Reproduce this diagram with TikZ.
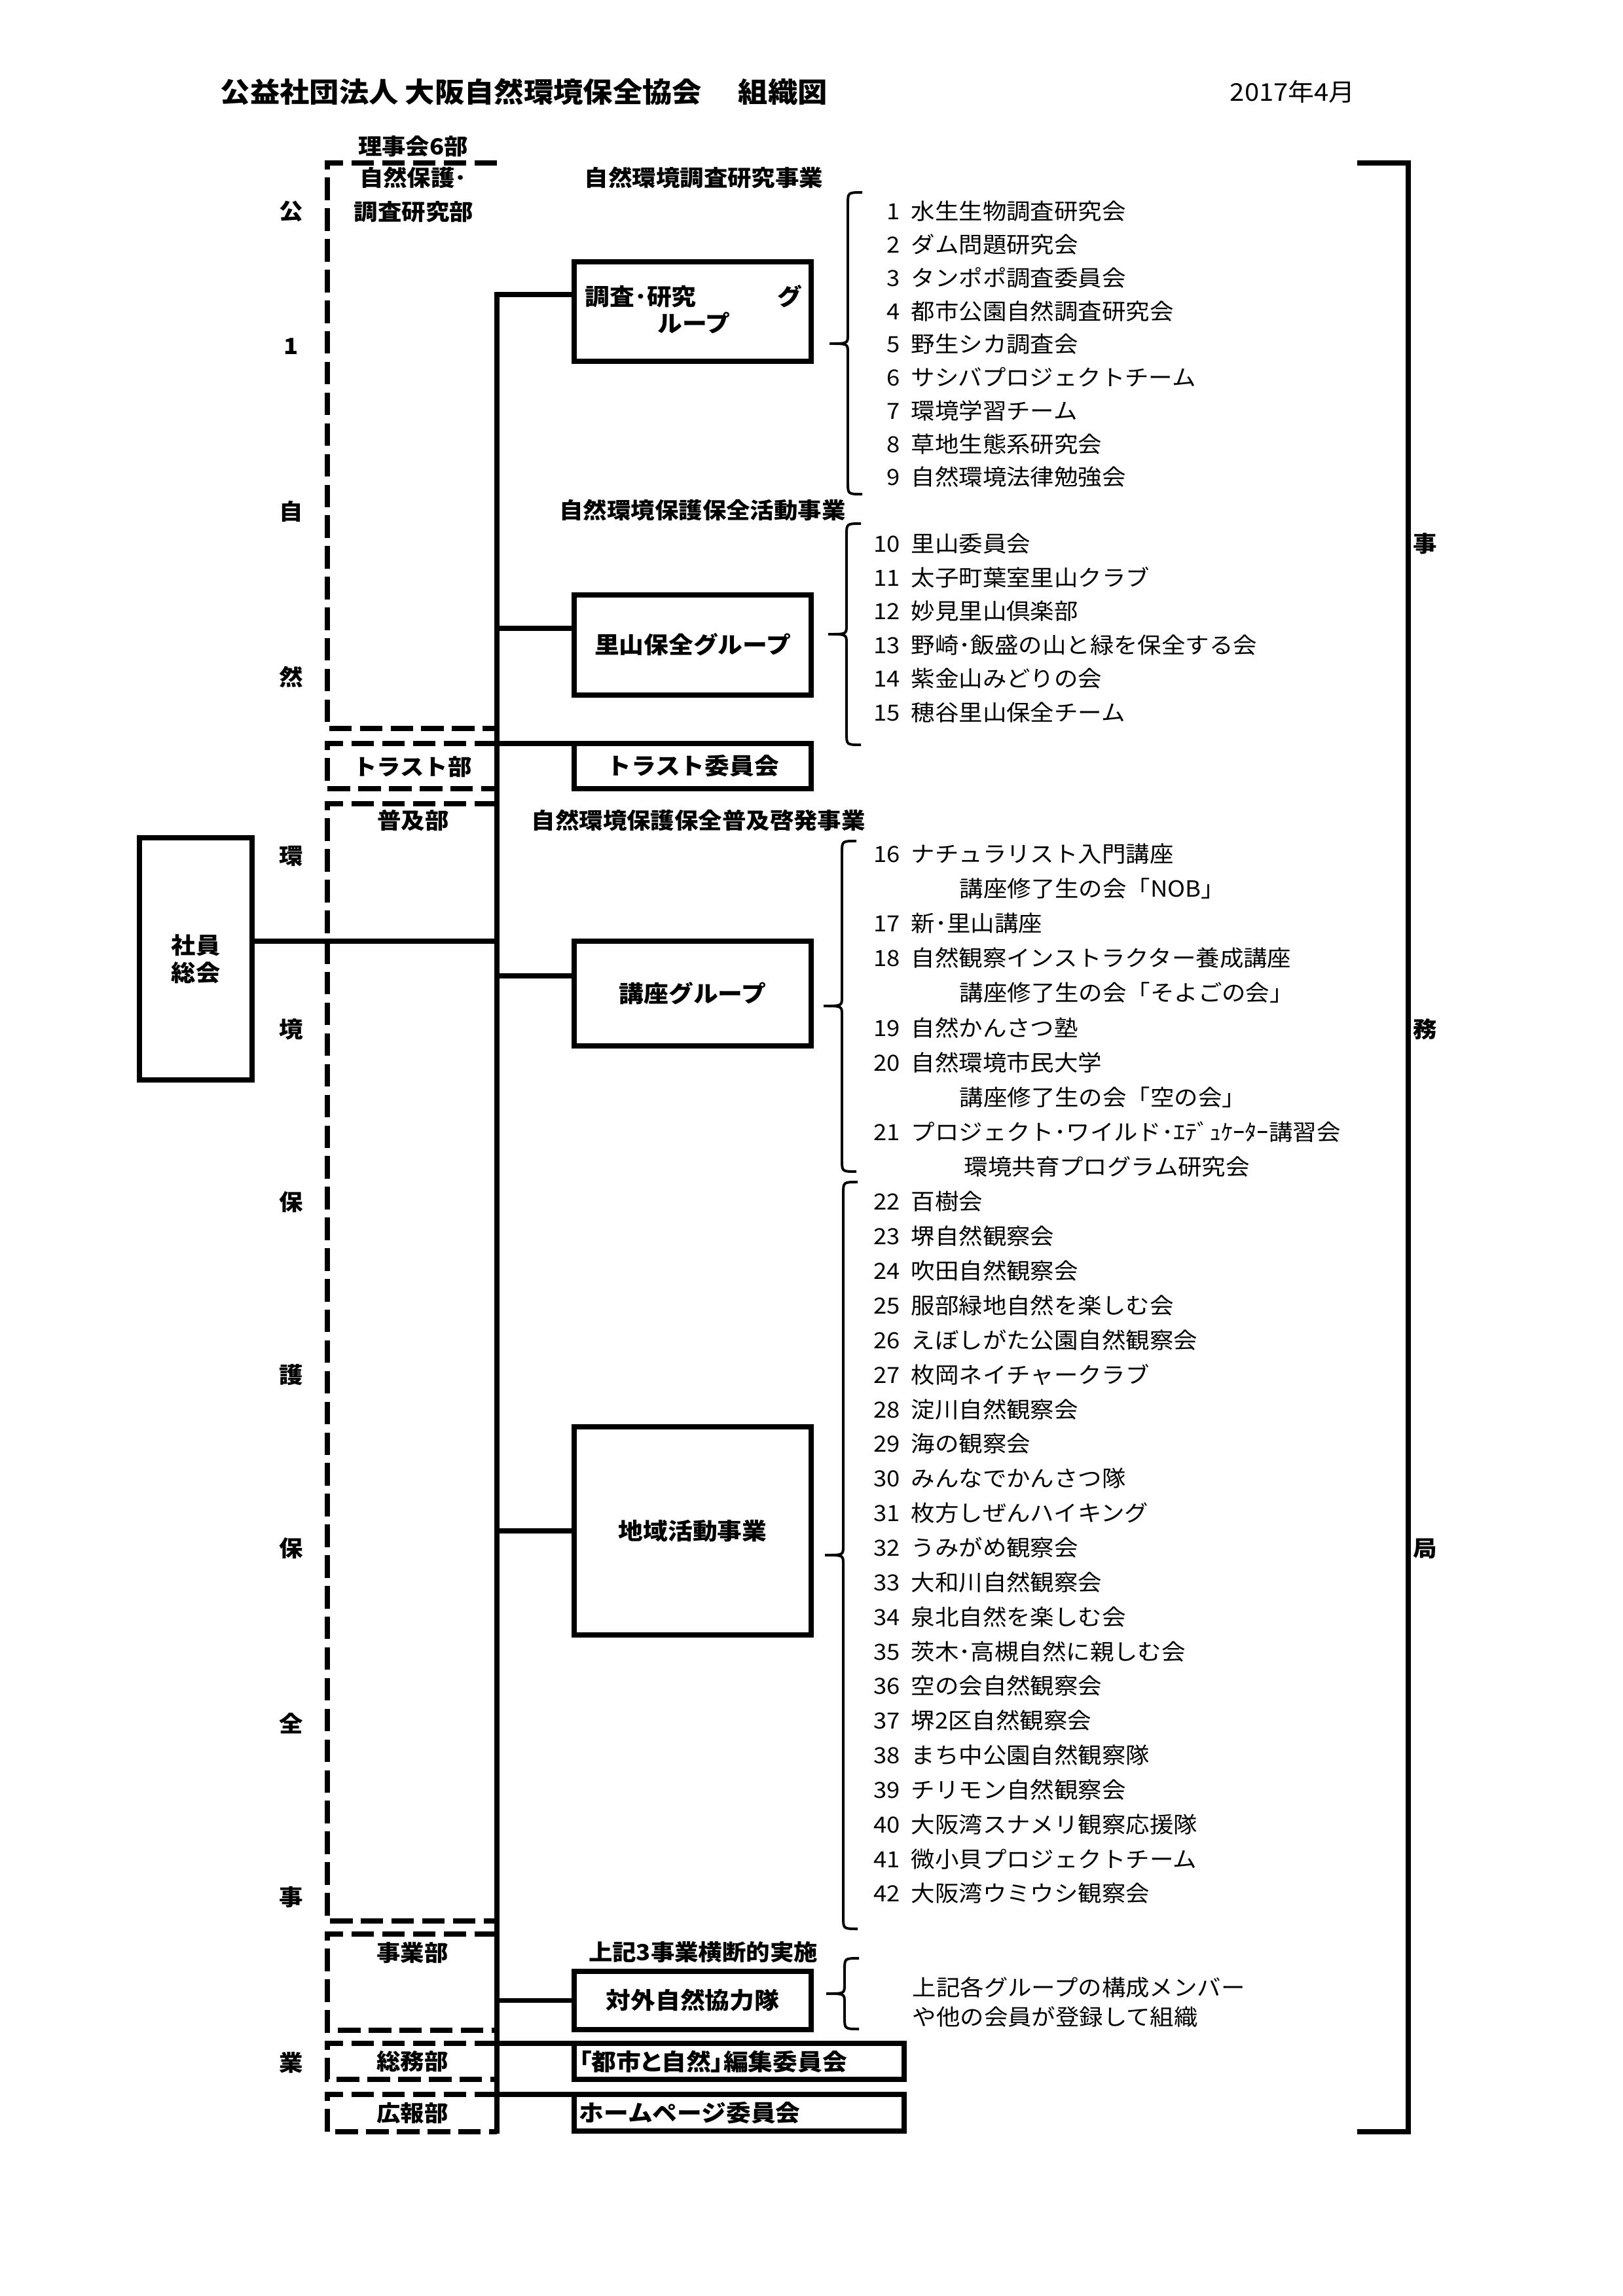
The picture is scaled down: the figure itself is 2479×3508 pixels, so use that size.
\documentclass[tikz,border=0pt]{standalone}
\usepackage{fontspec}
\setmainfont{Noto Sans CJK JP}[FakeStretch=1.07]
\usetikzlibrary{calc}
\def\pxu{0.2409pt}
\newcommand\jbrace[4]{%
  \draw[br] (#1+50,#2) .. controls (#1+28,#2) .. (#1+28,#2+18) -- (#1+28,#3-14)
    .. controls (#1+28,#3) .. (#1,#3) .. controls (#1+28,#3) .. (#1+28,#3+14)
    -- (#1+28,#4-18) .. controls (#1+28,#4) .. (#1+50,#4);}
\tikzset{
  conn/.style={line width=1.8pt},
  dashbox/.style={line width=1.9pt, dash pattern=on 8.3pt off 3.0pt},
  boxn/.style={draw, line width=1.8pt, inner sep=0pt, outer sep=0pt},
  br/.style={line width=0.95pt},
  reg/.style={font=\fontsize{8.2pt}{10pt}\selectfont, inner sep=0pt, text height=6.8pt, text depth=0.57pt},
  hd/.style={font=\bfseries\fontsize{8.2pt}{10pt}\selectfont, inner sep=0pt, text height=6.8pt, text depth=0.57pt},
  bx/.style={font=\bfseries\fontsize{8.5pt}{10pt}\selectfont, inner sep=0pt, text height=7.05pt, text depth=0.6pt},
  ttl/.style={font=\bfseries\fontsize{10.2pt}{12pt}\selectfont, inner sep=0pt, text height=8.5pt, text depth=0.7pt},
  dt/.style={font=\fontsize{9pt}{10pt}\selectfont, inner sep=0pt, text height=7.5pt, text depth=0.6pt},
}
\begin{document}
\begin{tikzpicture}[x=0.2409pt,y=-0.2409pt]
\useasboundingbox (0,0) rectangle (2479,3508);
\fill[white] (0,0) rectangle (2479,3508);

% title
\node[ttl, anchor=west] (title) at (336,140) {公益社団法人 大阪自然環境保全協会};
\node[ttl, anchor=west] (title2) at (1127,140) {組織図};
\node[dt, anchor=west] (date) at (1878,140) {2017年4月};

% left column
\foreach \c/\yy [count=\k] in {公/323,1/529,自/782,然/1035,環/1308,境/1573,保/1837,護/2101,保/2366,全/2634,事/2899,業/3152}{%
  \node[hd] (lc\k) at (445,\yy) {\c};}
% right column
\node[hd] (jm1) at (2177,831) {事};
\node[hd] (jm2) at (2177,1573) {務};
\node[hd] (jm3) at (2177,2366) {局};
\draw[line width=1.9pt] (2073,249) -- (2151,249) -- (2151,3257) -- (2073,3257);

% department labels
\node[hd] (d0) at (631,224) {理事会6部};
\node[hd] (d1a) at (631,272) {自然保護･};
\node[hd] (d1b) at (632,324) {調査研究部};
\node[hd] (d2) at (630,1172) {トラスト部};
\node[hd] (d3) at (631,1254) {普及部};
\node[hd] (d4) at (630,2984) {事業部};
\node[hd] (d5) at (630,3150) {総務部};
\node[hd] (d6) at (630,3229) {広報部};

% headings
\node[hd] (h1) at (1075,272) {自然環境調査研究事業};
\node[hd] (h2) at (1073,780) {自然環境保護保全活動事業};
\node[hd, anchor=west] (h3) at (811,1254) {自然環境保護保全普及啓発事業};
\node[hd] (h4) at (1074,2983) {上記3事業横断的実施};

% dashed department boxes
\draw[dashbox] (759,249) -- (500,249) -- (500,1113) -- (759,1113);
\draw[dashbox] (759,1136) -- (500,1136) -- (500,1205) -- (759,1205);
\draw[dashbox] (759,1228) -- (500,1228) -- (500,2935) -- (759,2935);
\draw[dashbox] (759,2955) -- (500,2955) -- (500,3102) -- (759,3102);
\draw[dashbox] (759,3122) -- (500,3122) -- (500,3177) -- (759,3177);
\draw[dashbox] (759,3200) -- (500,3200) -- (500,3257) -- (759,3257);

% boxes
\node[boxn, line width=1.7pt, minimum width={172*\pxu}, minimum height={370*\pxu}, align=center,
  font=\bfseries\fontsize{8.4pt}{10.1pt}\selectfont] (shain) at (299,1465) {社員\\総会};
\node[boxn, minimum width={362*\pxu}, minimum height={152*\pxu}] (chosa) at (1058,476) {};
\node[bx, anchor=west] (chosa1) at (893,453) {調査･研究};
\node[bx, anchor=east] (chosa2) at (1226,453) {グ};
\node[bx] (chosa3) at (1060,494) {ループ};
\node[boxn, bx, minimum width={362*\pxu}, minimum height={153*\pxu}] (sato) at (1058,985.5) {里山保全グループ};
\node[boxn, bx, minimum width={362*\pxu}, minimum height={69*\pxu}] (trust) at (1058,1170.5) {トラスト委員会};
\node[boxn, bx, minimum width={362*\pxu}, minimum height={160*\pxu}] (koza) at (1058,1518) {講座グループ};
\node[boxn, bx, minimum width={362*\pxu}, minimum height={318*\pxu}] (chiiki) at (1058,2339) {地域活動事業};
\node[boxn, bx, minimum width={362*\pxu}, minimum height={89*\pxu}] (taigai) at (1058,3056.5) {対外自然協力隊};
\node[boxn, minimum width={504*\pxu}, minimum height={55*\pxu}] (toshi) at (1129,3149.5) {};
\node[bx, anchor=west] (toshit) at (884,3150) {\addfontfeature{RawFeature=+palt}「都市と自然」編集委員会};
\node[boxn, minimum width={504*\pxu}, minimum height={56*\pxu}] (hp) at (1129,3228) {};
\node[bx, anchor=west] (hpt) at (884,3228) {ホームページ委員会};

% main vertical and connectors
\coordinate (vbot) at (759,3260);
\draw[conn] ($(chosa.north west)!0.33!(chosa.south west)$) -| (vbot);
\coordinate (cs) at ($(sato.north west)!0.333!(sato.south west)$);
\draw[conn] (cs) -- (cs -| vbot);
\coordinate (ck) at ($(koza.north west)!0.33!(koza.south west)$);
\draw[conn] (ck) -- (ck -| vbot);
\draw[conn] (chiiki.west) -- (chiiki.west -| vbot);
\draw[conn] (taigai.west) -- (taigai.west -| vbot);
\draw[conn] (trust.north west -| vbot) -- (trust.north west);
\draw[conn] (toshi.north west -| vbot) -- (toshi.north west);
\draw[conn] (hp.north west -| vbot) -- (hp.north west);
\coordinate (ca) at ($(shain.north east)!0.427!(shain.south east)$);
\draw[conn] (ca) -- (ca -| vbot);

% braces
\jbrace{1267}{294}{525}{755}
\jbrace{1265}{800}{969}{1138}
\jbrace{1258}{1285}{1537}{1790}
\jbrace{1260}{1806}{2376}{2947}
\jbrace{1262}{2992}{3046}{3100}

% items 1-9
\foreach \t [count=\i] in {水生生物調査研究会,ダム問題研究会,タンポポ調査委員会,%
都市公園自然調査研究会,野生シカ調査会,サシバプロジェクトチーム,環境学習チーム,%
草地生態系研究会,自然環境法律勉強会}{%
  \node[reg, anchor=east] (n\i) at (1376,{323+50.75*(\i-1)}) {\i};
  \node[reg, anchor=west] (t\i) at (1391,{323+50.75*(\i-1)}) {\t};}
% items 10-15
\foreach \t [count=\i from 10] in {里山委員会,太子町葉室里山クラブ,妙見里山倶楽部,%
野崎･飯盛の山と緑を保全する会,紫金山みどりの会,穂谷里山保全チーム}{%
  \node[reg, anchor=east] (n\i) at (1376,{831+51.5*(\i-10)}) {\i};
  \node[reg, anchor=west] (t\i) at (1391,{831+51.5*(\i-10)}) {\t};}
% items 16-21
\node[reg, anchor=east] (n16) at (1376,1305) {16};
\node[reg, anchor=west] (t16) at (1391,1305) {ナチュラリスト入門講座};
\node[reg, anchor=west] (s16) at (1465,1358) {講座修了生の会「NOB」};
\node[reg, anchor=east] (n17) at (1376,1411) {17};
\node[reg, anchor=west] (t17) at (1391,1411) {新･里山講座};
\node[reg, anchor=east] (n18) at (1376,1464) {18};
\node[reg, anchor=west] (t18) at (1391,1464) {自然観察インストラクター養成講座};
\node[reg, anchor=west] (s18) at (1465,1517) {講座修了生の会「そよごの会」};
\node[reg, anchor=east] (n19) at (1376,1571) {19};
\node[reg, anchor=west] (t19) at (1391,1571) {自然かんさつ塾};
\node[reg, anchor=east] (n20) at (1376,1624) {20};
\node[reg, anchor=west] (t20) at (1391,1624) {自然環境市民大学};
\node[reg, anchor=west] (s20) at (1465,1677) {講座修了生の会「空の会」};
\node[reg, anchor=east] (n21) at (1376,1730) {21};
\node[reg, anchor=west] (t21) at (1391,1730) {プロジェクト･ワイルド･ｴﾃﾞｭｹｰﾀｰ講習会};
\node[reg, anchor=west] (s21) at (1472,1783) {環境共育プログラム研究会};
% items 22-42
\foreach \t [count=\i from 22] in {百樹会,堺自然観察会,吹田自然観察会,服部緑地自然を楽しむ会,%
えぼしがた公園自然観察会,枚岡ネイチャークラブ,淀川自然観察会,海の観察会,%
みんなでかんさつ隊,枚方しぜんハイキング,うみがめ観察会,大和川自然観察会,%
泉北自然を楽しむ会,茨木･高槻自然に親しむ会,空の会自然観察会,堺2区自然観察会,%
まち中公園自然観察隊,チリモン自然観察会,大阪湾スナメリ観察応援隊,%
微小貝プロジェクトチーム,大阪湾ウミウシ観察会}{%
  \node[reg, anchor=east] (n\i) at (1376,{1836+52.85*(\i-22)}) {\i};
  \node[reg, anchor=west] (t\i) at (1391,{1836+52.85*(\i-22)}) {\t};}

% note
\node[reg, anchor=west] (note1) at (1393,3037) {上記各グループの構成メンバー};
\node[reg, anchor=west] (note2) at (1393,3082) {や他の会員が登録して組織};
\end{tikzpicture}
\end{document}
